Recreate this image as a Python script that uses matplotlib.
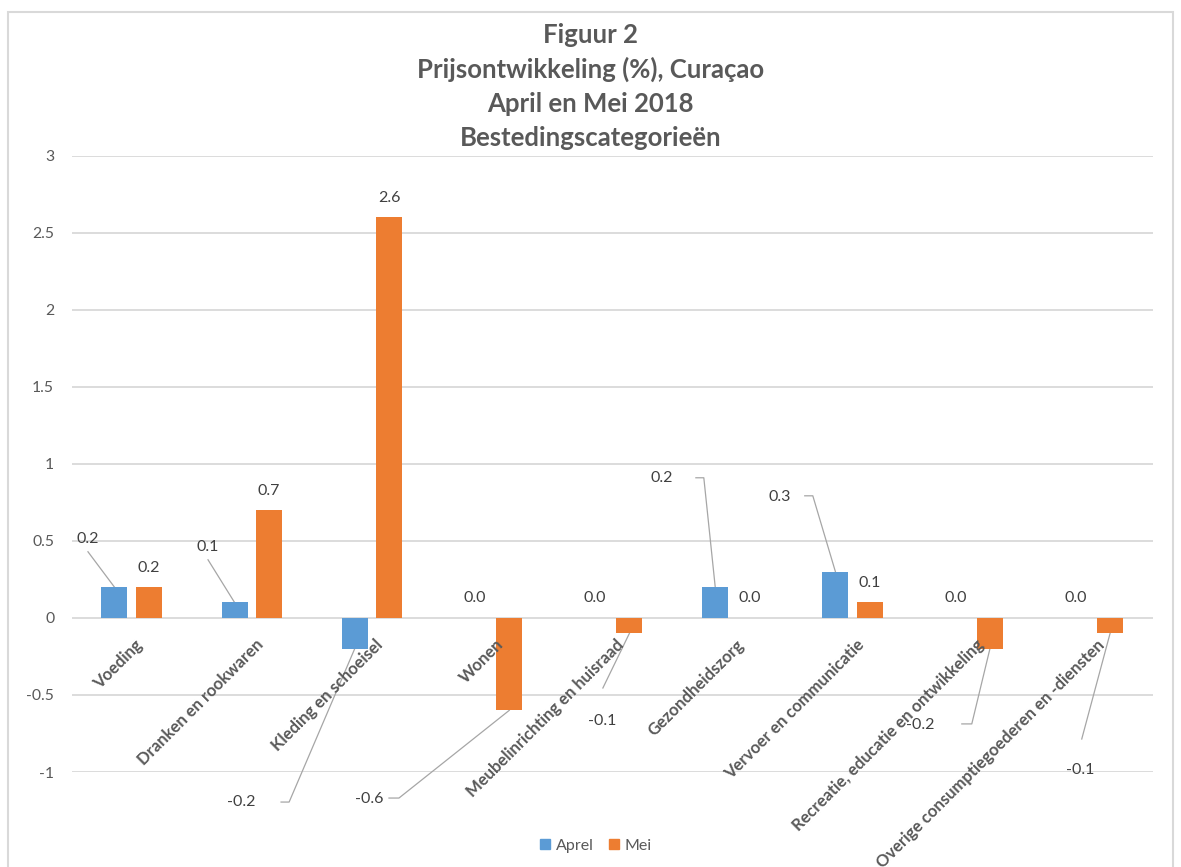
import matplotlib
matplotlib.use("Agg")
import matplotlib.pyplot as plt
from matplotlib.patches import Rectangle, Patch

plt.rcParams['font.family'] = ['Lato', 'DejaVu Sans']

categories = ["Voeding", "Dranken en rookwaren", "Kleding en schoeisel", "Wonen",
              "Meubelinrichting en huisraad", "Gezondheidszorg", "Vervoer en communicatie",
              "Recreatie, educatie en ontwikkeling", "Overige consumptiegoederen en -diensten"]
aprel = [0.2, 0.1, -0.2, 0.0, 0.0, 0.2, 0.3, 0.0, 0.0]
mei = [0.2, 0.7, 2.6, -0.6, -0.1, 0.0, 0.1, -0.2, -0.1]
series_names = ["Aprel", "Mei"]
title_lines = ["Figuur 2", "Prijsontwikkeling (%), Curaçao", "April en Mei 2018", "Bestedingscategorieën"]
yticks = [-1, -0.5, 0, 0.5, 1, 1.5, 2, 2.5, 3]

# labels that Excel moved away from the bar: label position + leader path (data units)
moved_labels = {
    ("Aprel", 0): ((-0.363, 0.513), [(-0.363, 0.429)]),
    ("Aprel", 1): ((0.636, 0.461), [(0.636, 0.377)]),
    ("Aprel", 2): ((0.910, -1.195), [(1.244, -1.195), (1.311, -1.195)]),
    ("Aprel", 5): ((4.413, 0.909), [(4.696, 0.909), (4.762, 0.909)]),
    ("Aprel", 6): ((5.394, 0.786), [(5.602, 0.792), (5.669, 0.792)]),
    ("Mei", 3): ((1.975, -1.175), [(2.142, -1.169), (2.225, -1.169)]),
    ("Mei", 4): ((3.914, -0.669), [(3.922, -0.455)]),
    ("Mei", 7): ((6.567, -0.695), [(6.909, -0.688), (6.992, -0.688)]),
    ("Mei", 8): ((7.898, -0.987), [(7.907, -0.786)]),
}

blue = "#5B9BD5"
orange = "#ED7D31"
grid_c = "#D9D9D9"
txt_c = "#595959"
lbl_c = "#404040"
lead_c = "#A6A6A6"

W, H = 1181, 867
fig = plt.figure(figsize=(W / 100, H / 100), dpi=100)
ax = fig.add_axes([71.5 / W, 1 - 772 / H, (1153 - 71.5) / W, (772 - 155.5) / H])

# chart border
fig.patches.append(Rectangle((8 / W, -0.05), (1173 - 8) / W, 1.05 - 12 / H,
                             transform=fig.transFigure, fill=False,
                             edgecolor=grid_c, linewidth=1.5))

x = list(range(len(categories)))
bw = 0.216
off = 0.143
xa = [i - off for i in x]
xm = [i + off for i in x]
ax.bar(xa, aprel, width=bw, color=blue, zorder=3, label="Aprel")
ax.bar(xm, mei, width=bw, color=orange, zorder=3, label="Mei")

ax.set_xlim(-0.5, len(categories) - 0.5)
ax.set_ylim(-1, 3)
ax.set_yticks(yticks)
ax.set_yticklabels([f"{t:g}" for t in yticks])
ax.tick_params(axis='y', length=0, pad=12.5, labelsize=11.3, labelcolor=txt_c)
ax.tick_params(axis='x', length=0, labelbottom=False)
for s in ax.spines.values():
    s.set_visible(False)
ax.yaxis.grid(True, color=grid_c, linewidth=1.3)
ax.set_axisbelow(True)

# category labels hanging from the zero line
for i, c in enumerate(categories):
    ax.annotate(c, xy=(i, 0), xytext=(2.3, -13.5), textcoords='offset points',
                rotation=45, rotation_mode='anchor', ha='right', va='top',
                fontsize=12, fontweight='bold', color=txt_c, annotation_clip=False,
                zorder=4)

# data labels
for name, xs, vals in [("Aprel", xa, aprel), ("Mei", xm, mei)]:
    for i, v in enumerate(vals):
        key = (name, i)
        if key in moved_labels:
            (lx, ly), path = moved_labels[key]
            ax.text(lx, ly, f"{v:.1f}", ha='center', va='center', fontsize=11.5,
                    color=lbl_c, clip_on=False, zorder=5)
            pts = path + [(xs[i], v)]
            ax.plot([p[0] for p in pts], [p[1] for p in pts], color=lead_c,
                    linewidth=0.9, clip_on=False, zorder=2)
        else:
            ax.annotate(f"{v:.1f}", xy=(xs[i], v), xytext=(0, 14), textcoords='offset points',
                        ha='center', va='center', fontsize=11.5, color=lbl_c,
                        annotation_clip=False, zorder=5)

# title
baselines = [43, 77.3, 111.6, 145.9]
for t, b in zip(title_lines, baselines):
    fig.text(0.5, 1 - b / H, t, ha='center', va='baseline', fontsize=18.5,
             fontweight='bold', color=txt_c)

handles = [Patch(color=blue), Patch(color=orange)]
fig.legend(handles, series_names, loc='center', bbox_to_anchor=(596 / W, 1 - 846 / H),
           ncol=2, frameon=False, fontsize=11.5, handlelength=0.6, handleheight=0.6,
           handletextpad=0.35, columnspacing=1.0, labelcolor=txt_c)

fig.savefig("out.png", dpi=100)
